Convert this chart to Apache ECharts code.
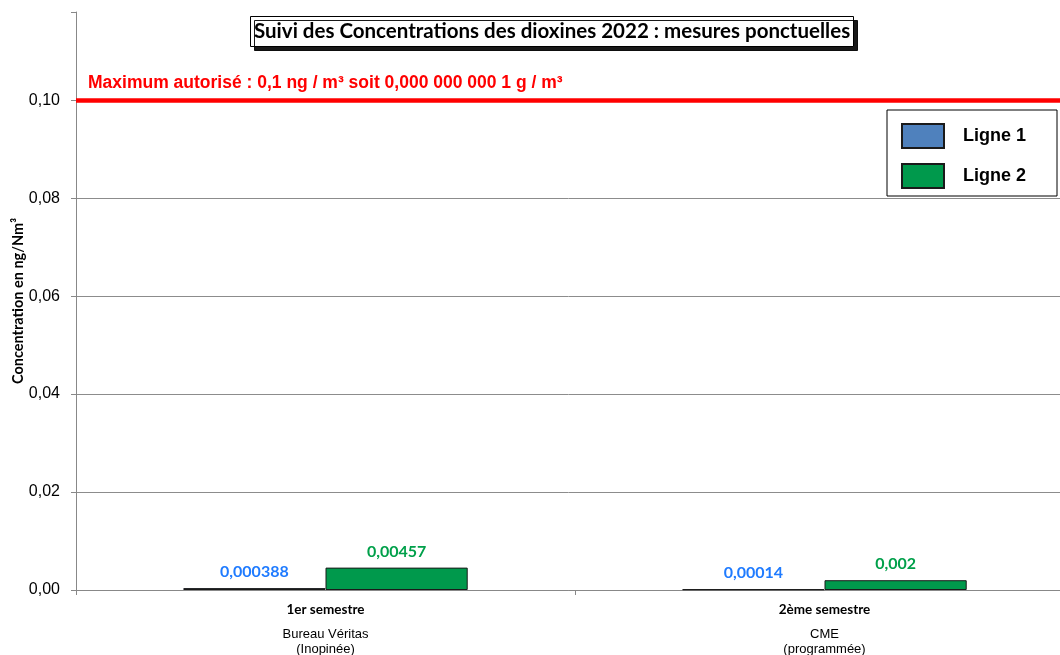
<!DOCTYPE html>
<html>
<head>
<meta charset="utf-8">
<script src="https://cdn.jsdelivr.net/npm/echarts@6/dist/echarts.min.js"></script>
<style>
  html, body { margin: 0; padding: 0; background: #fff; }
  #chart { width: 1060px; height: 655px; }
</style>
</head>
<body>
<div id="chart"></div>
<script>
// Semesters, who took the measurement, and how it was scheduled
const categories = ['1er semestre', '2ème semestre'];
const operators = ['Bureau Véritas', 'CME'];
const modes = ['(Inopinée)', '(programmée)'];

// Dioxin concentrations in ng/Nm³
const ligne1 = [0.000388, 0.00014];
const ligne2 = [0.00457, 0.002];

// Regulatory ceiling
const limitValue = 0.1;
const limitText = 'Maximum autorisé : 0,1 ng / m³ soit 0,000 000 000 1 g / m³';

const yTicks = { min: 0, max: 0.118, interval: 0.02 };

const fr = v => String(v).replace('.', ',');
const ARIAL = '"Liberation Sans", Arial, sans-serif';
const CALIBRI = 'Lato, "Open Sans", sans-serif';

const chart = echarts.init(document.getElementById('chart'), null, { renderer: 'canvas' });

chart.setOption({
  animation: false,
  backgroundColor: '#ffffff',
  title: {
    text: 'Suivi des Concentrations des dioxines 2022 : mesures ponctuelles',
    left: 250,
    top: 16,
    padding: [4, 4, 4, 4],
    backgroundColor: '#ffffff',
    borderColor: '#000000',
    borderWidth: 1,
    shadowColor: 'rgba(0,0,0,0.9)',
    shadowBlur: 0.1,
    shadowOffsetX: 4,
    shadowOffsetY: 4,
    textStyle: { fontFamily: CALIBRI, fontWeight: 'bold', fontSize: 20.5, color: '#000', lineHeight: 23 }
  },
  legend: {
    orient: 'vertical',
    left: 887,
    top: 110,
    padding: [13, 31, 7, 14],
    itemWidth: 42,
    itemHeight: 24,
    itemGap: 14,
    icon: 'rect',
    backgroundColor: '#ffffff',
    borderColor: '#000000',
    borderWidth: 1,
    selectedMode: false,
    textStyle: { fontFamily: ARIAL, fontWeight: 'bold', fontSize: 18, color: '#000', padding: [0, 0, 0, 14] }
  },
  grid: { left: 76, width: 998, top: 12, bottom: 65, containLabel: false, outerBoundsMode: 'none' },
  xAxis: {
    type: 'category',
    data: categories,
    axisLine: { lineStyle: { color: '#888888', width: 1 } },
    axisTick: { show: true, length: 5, lineStyle: { color: '#888888' } },
    axisLabel: {
      margin: 9,
      interval: 0,
      formatter: (v, i) => `{a|${v}}\n{s| }\n{b|${operators[i]}}\n{b|${modes[i]}}`,
      rich: {
        a: { fontFamily: CALIBRI, fontWeight: 'bold', fontSize: 13.5, color: '#000', lineHeight: 22 },
        s: { fontSize: 4, lineHeight: 6 },
        b: { fontFamily: ARIAL, fontSize: 13, color: '#000', lineHeight: 15 }
      }
    }
  },
  yAxis: {
    type: 'value',
    min: yTicks.min,
    max: yTicks.max,
    interval: yTicks.interval,
    name: 'Concentration en ng/Nm³',
    nameLocation: 'middle',
    nameGap: 50,
    nameMoveOverlap: false,
    nameTextStyle: { fontFamily: CALIBRI, fontWeight: 'bold', fontSize: 14.5, color: '#000' },
    axisLine: { show: true, lineStyle: { color: '#888888', width: 1 } },
    axisTick: { show: true, length: 5, lineStyle: { color: '#888888' } },
    axisLabel: {
      margin: 16,
      fontFamily: ARIAL,
      fontSize: 16,
      color: '#000',
      formatter: v => {
        const k = Math.round(v / yTicks.interval);
        return Math.abs(v - k * yTicks.interval) < 1e-9 ? v.toFixed(2).replace('.', ',') : '';
      }
    },
    splitLine: { show: true, showMaxLine: false, lineStyle: { color: '#8c8c8c', width: 1 } }
  },
  series: [
    {
      name: 'Ligne 1',
      type: 'bar',
      data: ligne1,
      barGap: '0%',
      barCategoryGap: '43%',
      itemStyle: { color: '#4F81BD', borderColor: '#1a1a1a', borderWidth: 1 },
      label: {
        show: true,
        position: 'top',
        distance: 8,
        formatter: p => fr(p.value),
        fontFamily: CALIBRI,
        fontWeight: 'bold',
        fontSize: 16,
        color: '#1F7BFF'
      },
      markLine: {
        silent: true,
        symbol: 'none',
        animation: false,
        lineStyle: { color: '#FF0000', width: 4.5, type: 'solid' },
        label: {
          show: true,
          position: 'insideStartTop',
          distance: [12, 8],
          formatter: limitText,
          fontFamily: ARIAL,
          fontWeight: 'bold',
          fontSize: 17.5,
          color: '#FF0000'
        },
        emphasis: { disabled: true },
        data: [{ yAxis: limitValue }]
      }
    },
    {
      name: 'Ligne 2',
      type: 'bar',
      data: ligne2,
      itemStyle: { color: '#00994C', borderColor: '#1a1a1a', borderWidth: 1 },
      label: {
        show: true,
        position: 'top',
        distance: 8,
        formatter: p => fr(p.value),
        fontFamily: CALIBRI,
        fontWeight: 'bold',
        fontSize: 16,
        color: '#00A04A'
      }
    }
  ]
});
</script>
</body>
</html>
